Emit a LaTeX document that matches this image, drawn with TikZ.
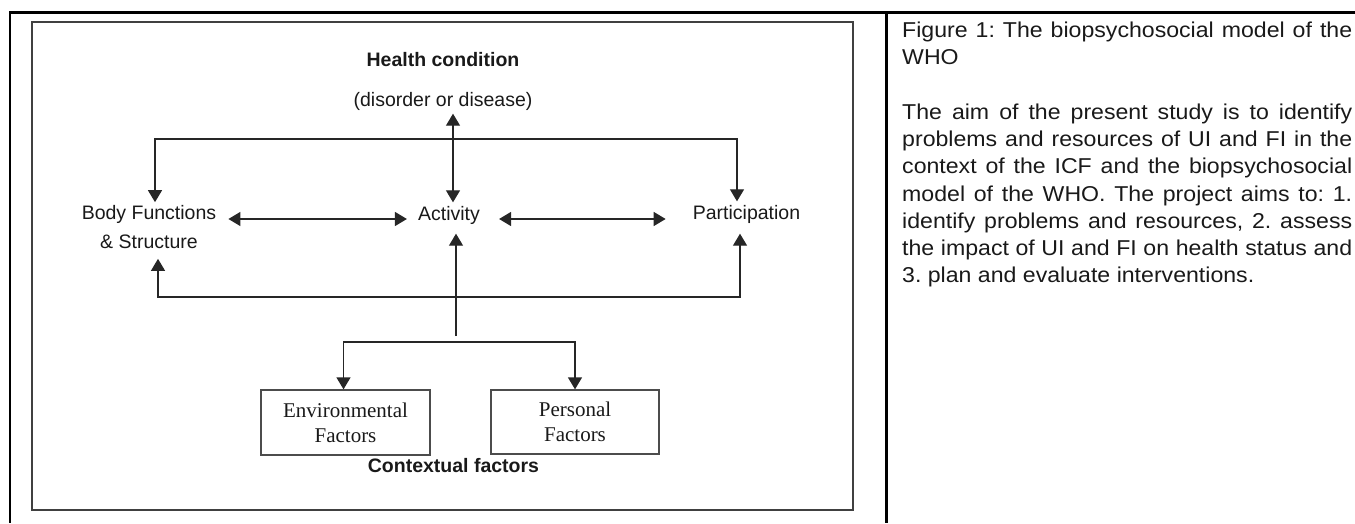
\documentclass[tikz,border=0pt]{standalone}
\usepackage{fontspec}
\setmainfont{Liberation Sans}
\newfontfamily\serifFont{Liberation Serif}
\newfontfamily\wideFont[FakeStretch=1.075]{Liberation Sans}
\usetikzlibrary{arrows.meta,positioning,calc}

\begin{document}
\frenchspacing
\begin{tikzpicture}[x=1pt, y=-1pt,
		every node/.style={inner sep=0pt, text=black!90},
		lbl/.style={
				anchor=base, inner ysep=3.5pt,
				text height=14pt, text depth=4pt,
				font=\fontsize{19.5}{29}\selectfont
			},
		boldLbl/.style={lbl, font=\fontsize{19.5}{29}\selectfont\bfseries},
		factorBox/.style={
				draw=black!70, line width=1.3pt,
				minimum width=169pt, minimum height=65pt, align=center,
				font=\serifFont\fontsize{21}{24.7}\selectfont
			},
		link/.style={draw=black!85, line width=1.3pt},
		arrowTip/.style={-{Triangle[length=12pt,width=14pt]}},
		bothTips/.style={{Triangle[length=12pt,width=14pt]}-{Triangle[length=12pt,width=14pt]}},
		frameLine/.style={line width=2.2pt}
	]
	\useasboundingbox (0,0) rectangle (1355,523);

	% table lines
	\draw[frameLine] (9,12.5) -- (1355,12.5);
	\draw[frameLine] (10,11.5) -- (10,523);
	\draw[frameLine] (886.5,11.5) -- (886.5,523);

	% figure frame
	\draw[draw=black!75, line width=1.3pt] (32,22) rectangle (853,510);

	% nodes
	\node[boldLbl] (health) at (443,66) {Health condition};
	\node[lbl] (disorder) at (443,106) {(disorder or disease)};
	\node[align=center, inner ysep=3pt, font=\fontsize{19.5}{29}\selectfont] (body) at (149,227) {Body Functions\\\& Structure};
	\node[lbl] (activity) at (449,220) {Activity};
	\node[lbl] (particip) at (746.5,219) {Participation};
	\node[factorBox] (envFactors) at (345.5,422.5) {Environmental\\Factors};
	\node[factorBox, minimum width=168pt, minimum height=64pt] (persFactors) at (575,422) {Personal\\Factors};
	\node[boldLbl] (context) at (453.5,472) {Contextual factors};

	\coordinate (topRight) at (737,139);
	\coordinate (bottomRight) at (740,297);
	\coordinate (branchTop) at (456,336);
	\coordinate (branchRight) at (575,342);

	% connectors
	\draw[link, bothTips] ($(activity.north)+(4,0)$) -- ($(disorder.south)+(10,0)$);
	\draw[link, bothTips] ($(body.north)+(6,0)$) |- (topRight) -- ($(particip.north)+(-9.5,0)$);
	\draw[link, bothTips, shorten <=7pt, shorten >=7pt] ($(body.south)+(9,0)$) |- (bottomRight) -- ($(particip.south)+(-6.5,0)$);
	\draw[link, bothTips] ($(body.east)+(12,-8)$) -- ($(activity.west)+(-11,4)$);
	\draw[link, bothTips] ($(activity.east)+(19,4)$) -- ($(particip.west)+(-27,5)$);
	\draw[link, arrowTip, shorten >=6pt] (branchTop) -- ($(activity.south)+(7,0)$);
	\draw[link, bothTips] ($(envFactors.north)+(-2,0)$) |- (branchRight) -- (persFactors.north);

	% text beside the figure
	\node[anchor=north west, text width=450pt, align=justify,
		font=\wideFont\fontsize{21.5}{27.3}\selectfont] (caption) at (902,21.5) {%
		\noindent Figure 1: The biopsychosocial model of the\linebreak
		WHO\par\vspace{27.3pt}
		\noindent The aim of the present study is to identify\linebreak
		problems and resources of UI and FI in the\linebreak
		context of the ICF and the biopsychosocial\linebreak
		model of the WHO. The project aims to: 1.\linebreak
		identify problems and resources, 2. assess\linebreak
		the impact of UI and FI on health status and\linebreak
		3. plan and evaluate interventions.};
\end{tikzpicture}
\end{document}
